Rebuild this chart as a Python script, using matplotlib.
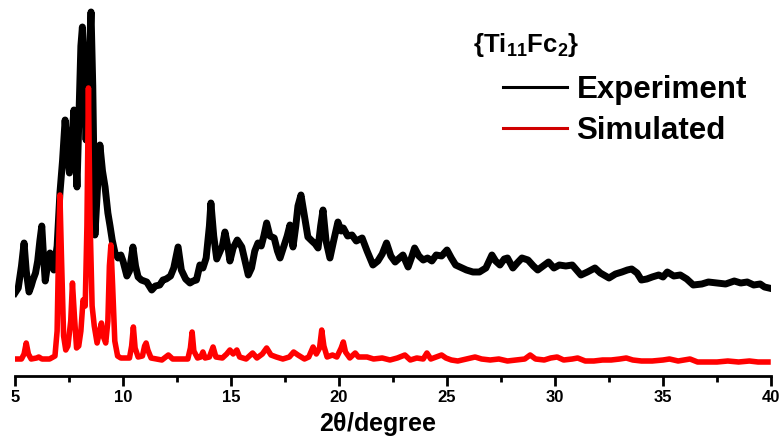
import matplotlib
matplotlib.use('Agg')
import matplotlib.pyplot as plt
from matplotlib.lines import Line2D
from matplotlib.ticker import MultipleLocator

plt.rcParams['font.family'] = ['Liberation Sans', 'DejaVu Sans']
plt.rcParams['font.weight'] = 'bold'
plt.rcParams['mathtext.fontset'] = 'custom'
plt.rcParams['mathtext.rm'] = 'Liberation Sans:bold'
plt.rcParams['mathtext.default'] = 'rm'

# Experimental pattern (offset), 2theta in degrees, intensity in a.u.
exp_2theta = [5.00, 5.15, 5.30, 5.42, 5.52, 5.65, 5.75, 5.83, 5.95, 6.05, 6.15, 6.24, 6.32, 6.40,
              6.50, 6.62, 6.70, 6.80, 6.95, 7.08, 7.20, 7.32, 7.42, 7.52, 7.62, 7.73, 7.80, 7.87,
              7.95, 8.05, 8.12, 8.20, 8.29, 8.40, 8.52, 8.60, 8.70, 8.80, 8.93, 9.05, 9.17, 9.30,
              9.40, 9.50, 9.63, 9.77, 9.90, 10.00, 10.18, 10.30, 10.46, 10.58, 10.70, 10.85, 11.10,
              11.33, 11.50, 11.70, 11.85, 12.00, 12.20, 12.35, 12.55, 12.70, 12.90, 13.10, 13.25,
              13.40, 13.56, 13.70, 13.85, 14.00, 14.07, 14.20, 14.34, 14.50, 14.60, 14.72, 14.85,
              14.95, 15.10, 15.29, 15.50, 15.65, 15.80, 15.95, 16.10, 16.25, 16.40, 16.52, 16.65,
              16.80, 17.00, 17.15, 17.27, 17.45, 17.60, 17.73, 17.87, 18.00, 18.10, 18.24, 18.40,
              18.56, 18.75, 18.90, 19.03, 19.15, 19.26, 19.40, 19.58, 19.75, 19.95, 20.10, 20.20,
              20.40, 20.60, 20.80, 21.07, 21.30, 21.57, 21.80, 22.00, 22.20, 22.40, 22.60, 22.80,
              22.96, 23.20, 23.35, 23.50, 23.70, 23.90, 24.10, 24.30, 24.50, 24.75, 25.00, 25.20,
              25.40, 25.60, 25.90, 26.20, 26.50, 26.80, 27.08, 27.25, 27.45, 27.65, 27.80, 28.05,
              28.25, 28.47, 28.75, 29.00, 29.20, 29.45, 29.70, 29.95, 30.20, 30.50, 30.80, 31.00,
              31.20, 31.50, 31.85, 32.10, 32.50, 32.80, 33.10, 33.35, 33.55, 33.80, 34.00, 34.25,
              34.50, 34.80, 35.00, 35.20, 35.50, 35.80, 36.10, 36.40, 36.80, 37.10, 37.50, 37.90,
              38.30, 38.60, 38.90, 39.20, 39.50, 39.70, 39.90]
exp_int = [83, 88, 110, 133, 105, 84, 90, 96, 103, 115, 135, 150, 120, 95,
           110, 123, 112, 106, 130, 183, 215, 256, 225, 203, 235, 266, 230, 189,
           250, 330, 349, 290, 236, 300, 364, 290, 141, 180, 231, 205, 189, 163,
           150, 136, 123, 118, 121, 115, 100, 105, 129, 110, 99, 96, 94,
           86, 90, 91, 96, 97, 100, 108, 129, 106, 97, 93, 95,
           96, 111, 108, 118, 150, 173, 140, 117, 125, 130, 144, 130,
           115, 128, 136, 129, 115, 101, 108, 125, 133, 130, 140, 153,
           140, 138, 125, 118, 130, 140, 151, 129, 150, 170, 181, 160,
           139, 135, 132, 128, 150, 166, 135, 118, 135, 154, 145, 148,
           140, 141, 135, 138, 125, 111, 115, 122, 133, 120, 114, 118,
           121, 109, 118, 128, 120, 116, 118, 115, 121, 120, 126, 118,
           111, 109, 106, 104, 104, 108, 121, 115, 111, 117, 118, 108,
           113, 118, 116, 110, 106, 110, 114, 108, 111, 110, 111, 106,
           101, 104, 108, 103, 98, 102, 104, 106, 107, 103, 96, 97,
           99, 101, 99, 104, 100, 101, 97, 91, 92, 94, 93, 92,
           95, 93, 94, 91, 92, 89, 88]

# Simulated pattern
sim_2theta = [5.00, 5.30, 5.42, 5.52, 5.62, 5.75, 6.00, 6.10, 6.25, 6.60, 6.85, 6.95, 7.02, 7.08,
              7.15, 7.25, 7.35, 7.45, 7.58, 7.66, 7.75, 7.85, 7.95, 8.05, 8.15, 8.25, 8.33, 8.40,
              8.47, 8.57, 8.67, 8.80, 8.92, 9.00, 9.08, 9.20, 9.30, 9.37, 9.44, 9.52, 9.62, 9.75,
              9.90, 10.30, 10.40, 10.48, 10.56, 10.70, 10.90, 11.00, 11.07, 11.15, 11.30, 11.80,
              12.10, 12.30, 13.00, 13.12, 13.20, 13.28, 13.45, 13.60, 13.70, 13.80, 14.00, 14.17,
              14.30, 14.60, 14.80, 14.95, 15.10, 15.27, 15.40, 15.70, 16.00, 16.20, 16.45, 16.65,
              16.85, 17.10, 17.40, 17.70, 17.90, 18.10, 18.40, 18.60, 18.80, 18.95, 19.10, 19.20,
              19.30, 19.45, 19.70, 19.90, 20.10, 20.20, 20.30, 20.50, 20.75, 20.90, 21.30, 21.60,
              22.00, 22.36, 22.70, 23.05, 23.30, 23.60, 23.90, 24.07, 24.25, 24.50, 24.75, 24.95,
              25.20, 25.50, 25.90, 26.30, 26.60, 27.00, 27.40, 27.80, 28.20, 28.60, 28.85, 29.10,
              29.50, 29.80, 30.10, 30.40, 30.80, 31.05, 31.40, 31.80, 32.20, 32.60, 33.00, 33.30,
              33.60, 34.00, 34.50, 35.00, 35.30, 35.70, 36.25, 36.60, 37.00, 37.50, 38.00, 38.50,
              39.00, 39.40, 39.86]
sim_int = [17, 17, 22, 33, 22, 17, 18, 19, 17, 17, 20, 45, 130, 181,
           120, 40, 26, 30, 55, 93, 60, 28, 30, 45, 76, 70, 150, 288,
           160, 70, 50, 33, 45, 53, 40, 33, 55, 110, 131, 90, 35, 20,
           18, 18, 30, 49, 28, 19, 20, 30, 33, 26, 18, 16,
           21, 17, 17, 28, 44, 25, 18, 19, 24, 18, 19, 29,
           19, 18, 22, 26, 22, 26, 19, 17, 23, 18, 22, 28,
           21, 19, 17, 19, 24, 21, 17, 19, 29, 22, 28, 46,
           30, 19, 21, 19, 28, 34, 24, 18, 23, 19, 19, 17,
           18, 16, 18, 21, 16, 18, 17, 23, 17, 19, 21, 18,
           16, 15, 17, 19, 17, 16, 17, 15, 16, 17, 21, 17,
           16, 18, 19, 16, 17, 18, 15, 15, 16, 16, 17, 18,
           16, 15, 15, 16, 17, 15, 17, 14, 14, 14, 15, 14,
           15, 14, 14]

x_ticks = [5, 10, 15, 20, 25, 30, 35, 40]
series_labels = ['Experiment', 'Simulated']
legend_title = '{Ti$_{11}$Fc$_2$}'

fig = plt.figure(figsize=(7.83, 4.37), dpi=100)
ax = fig.add_axes([15 / 783, 61 / 437, 756 / 783, 376 / 437])

ax.plot(exp_2theta, exp_int, color='black', lw=5.0, solid_joinstyle='round', zorder=2)
ax.plot(sim_2theta, sim_int, color='#ff0000', lw=4.0, solid_joinstyle='round', zorder=3)

ax.set_xlim(5, 40)
ax.set_ylim(0, 376)
ax.set_xticks(x_ticks)
ax.xaxis.set_minor_locator(MultipleLocator(2.5))
ax.tick_params(axis='x', which='major', direction='out', length=7, width=2, labelsize=12, pad=3)
ax.tick_params(axis='x', which='minor', direction='out', length=4.5, width=2)
ax.set_yticks([])
for side in ['left', 'right', 'top']:
    ax.spines[side].set_visible(False)
ax.spines['bottom'].set_linewidth(2)
ax.set_xlabel(r'2$\mathregular{\theta}$/degree', fontsize=18, fontweight='bold')
ax.xaxis.set_label_coords(0.48, -0.09)
for lab in ax.get_xticklabels():
    lab.set_fontweight('bold')

fig.text(473 / 783, 1 - 45 / 437, legend_title, fontsize=18.5, fontweight='bold',
         ha='left', va='center')
handles = [Line2D([], [], color='black', lw=2.2), Line2D([], [], color='#d00000', lw=2.2)]
ax.legend(handles, series_labels, loc='upper left', bbox_to_anchor=(503 / 783, 1 - 75 / 437),
          bbox_transform=fig.transFigure, frameon=False, prop={'size': 22.5, 'weight': 'bold'},
          handlelength=2.05, handletextpad=0.3, labelspacing=0.36, borderpad=0, borderaxespad=0)

fig.savefig('out.png', dpi=100)
